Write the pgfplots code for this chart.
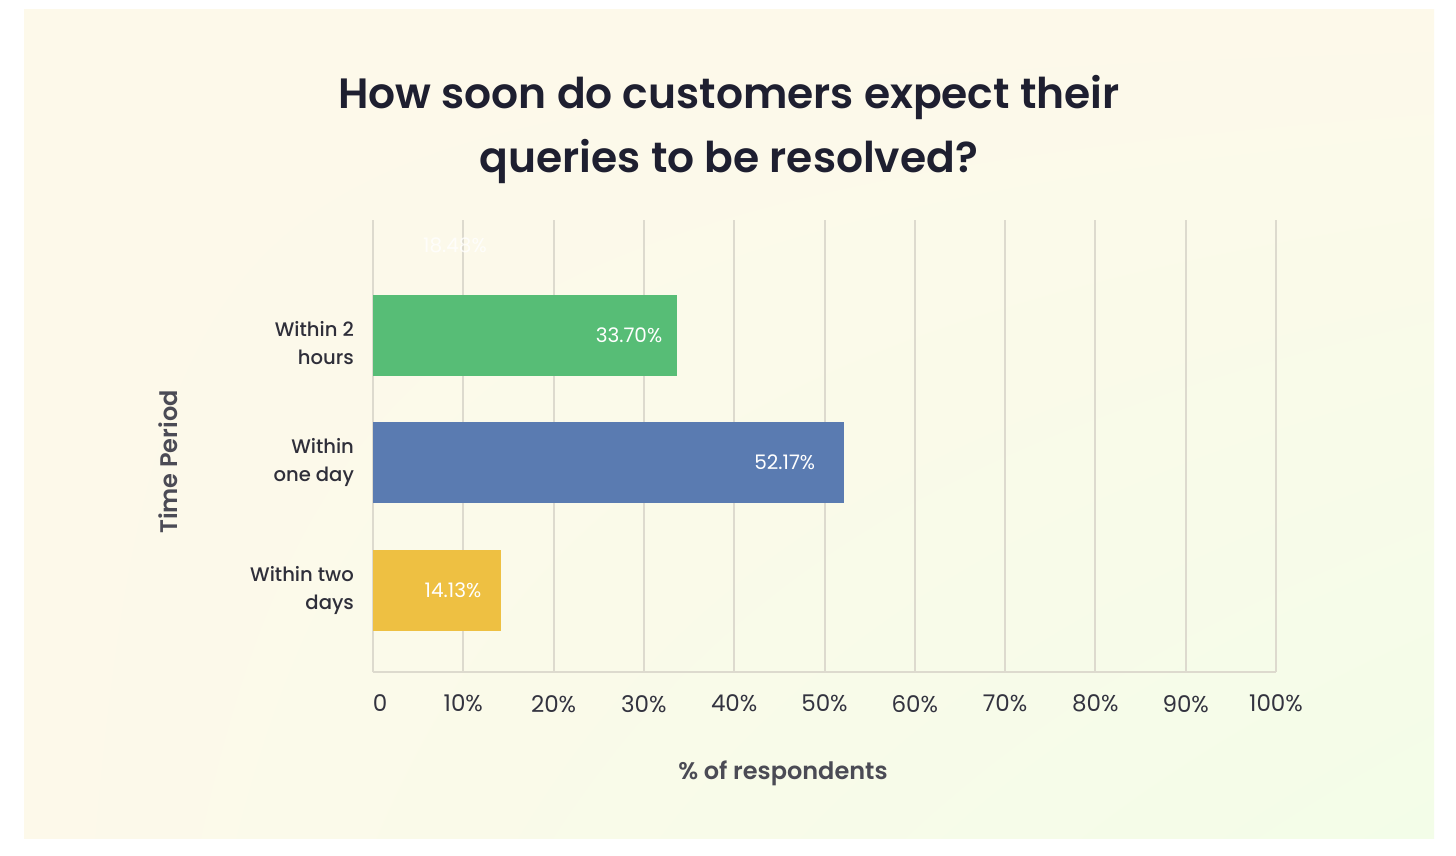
\documentclass[border=0pt]{standalone}
\usepackage{pgfplots}
\pgfplotsset{compat=1.18}
\usetikzlibrary{shadings}
\usepackage{fontspec}
\setmainfont{Poppins}[BoldFont={Poppins SemiBold}]
\newfontfamily\medfont{Poppins Medium}
\definecolor{bgA}{HTML}{FDF9EA}
\definecolor{bgB}{HTML}{F3FDE8}
\definecolor{gridc}{HTML}{DDDACE}
\definecolor{titlec}{HTML}{1E1F30}
\definecolor{tickc}{HTML}{33333F}
\definecolor{labc}{HTML}{2F2F3A}
\definecolor{axlabc}{HTML}{4B4B55}
\definecolor{cgreen}{HTML}{57BD76}
\definecolor{cblue}{HTML}{5A7BB1}
\definecolor{cyellow}{HTML}{EEC042}
\begin{document}
\begin{tikzpicture}
\fill[white] (0pt,0pt) rectangle (728pt,-428pt);
\shade[upper left=bgA, upper right=bgA, lower left=bgA, lower right=bgB] (12pt,-5pt) rectangle (717pt,-419pt);
\node[font=\fontsize{21.2}{32}\selectfont\bfseries, text=titlec, align=center] at (364.5pt,-64.5pt) {How soon do customers expect their\\queries to be resolved?};
\begin{axis}[
  at={(186.5pt,-336pt)}, anchor=south west,
  scale only axis, width=451.5pt, height=226pt,
  xmin=0, xmax=100, ymin=-0.643, ymax=2.902,
  axis x line=bottom, axis y line=left,
  axis line style={draw=gridc, line width=1pt, -},
  xmajorgrids, grid style={draw=gridc, line width=1pt},
  major tick length=0pt,
  xtick={0,10,20,30,40,50,60,70,80,90,100},
  xticklabels={\hspace*{7pt}0,10\%,20\%,30\%,40\%,50\%,60\%,70\%,80\%,90\%,100\%},
  xticklabel style={font=\fontsize{11.5}{14}\selectfont, text=tickc, yshift=-8pt},
  ytick={0,1},
  yticklabels={{Within two\\days},{Within\\one day}},
  extra y ticks={2},
  extra y tick labels={{Within 2\\hours}},
  extra y tick style={yticklabel style={yshift=-4pt}},
  yticklabel style={align=right, font=\fontsize{9.8}{14}\medfont, text=labc, xshift=-6pt},
  xlabel={\% of respondents},
  xlabel style={at={(axis description cs:0.454,-0.2235)}, anchor=center, font=\fontsize{12}{16}\selectfont\bfseries, text=axlabc},
  ylabel={Time Period},
  ylabel style={at={(axis description cs:-0.2270,0.4646)}, anchor=center, font=\fontsize{12}{16}\selectfont\bfseries, text=axlabc},
  clip=false,
]
\addplot[xbar, bar width=40.5pt, bar shift=0pt, fill=cgreen, draw=none] coordinates {(33.70,2)};
\addplot[xbar, bar width=40.5pt, bar shift=0pt, fill=cblue, draw=none] coordinates {(52.17,1)};
\addplot[xbar, bar width=40.5pt, bar shift=0pt, fill=cyellow, draw=none] coordinates {(14.13,0)};
\node[text=white, font=\fontsize{10}{14}\selectfont] at (axis cs:28.35,2) {33.70\%};
\node[text=white, font=\fontsize{10}{14}\selectfont] at (axis cs:45.6,1) {52.17\%};
\node[text=white, font=\fontsize{10}{14}\selectfont] at (axis cs:8.86,0) {14.13\%};
\node[text=white, opacity=0.8, font=\fontsize{10}{14}\selectfont] at (axis cs:9.08,2.706) {18.48\%};
\end{axis}
\end{tikzpicture}
\end{document}
